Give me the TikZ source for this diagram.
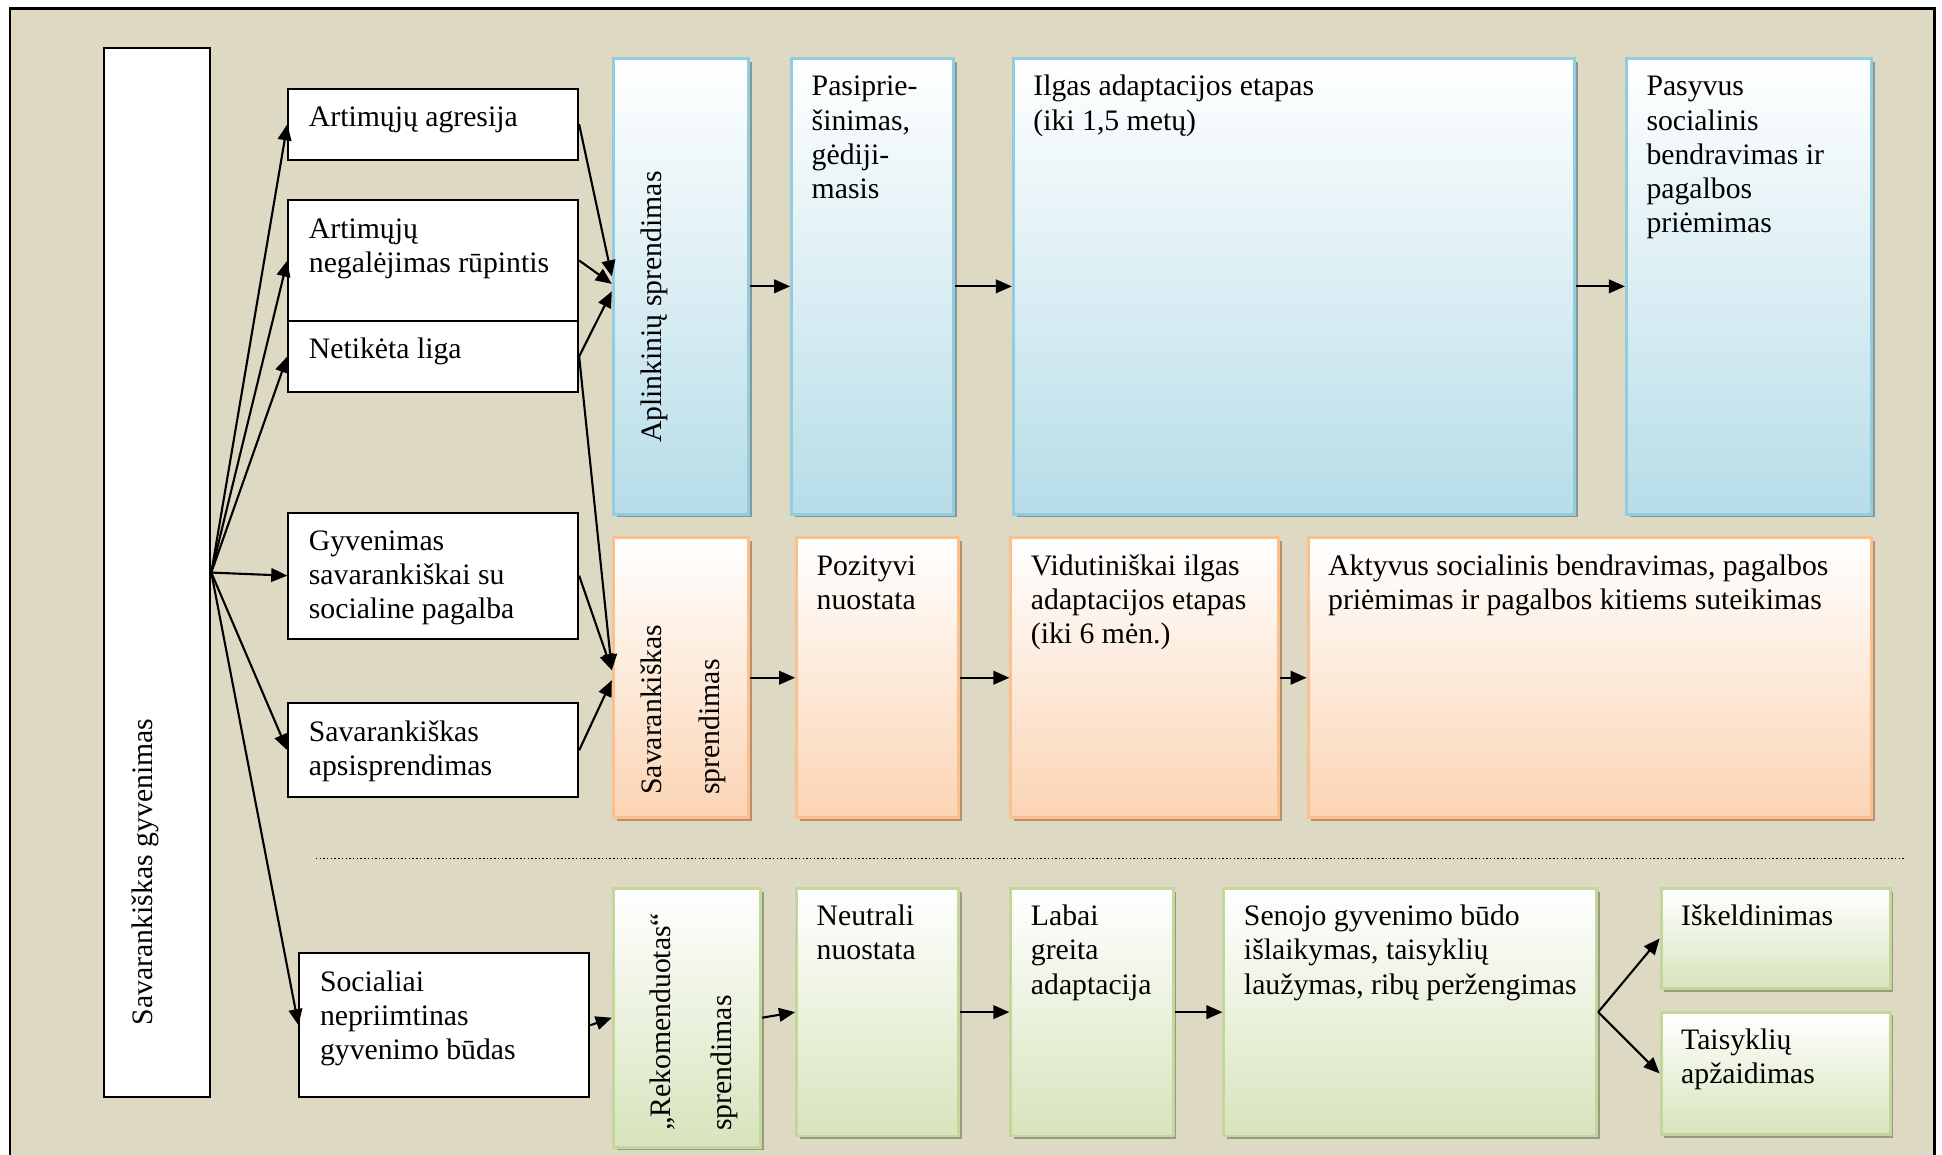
\documentclass[tikz,border=0pt]{standalone}
\usepackage{fontspec}
\setmainfont{Liberation Serif}
\usetikzlibrary{arrows.meta,shadows,calc}

\definecolor{bg}{HTML}{DDD9C3}
\definecolor{blueline}{HTML}{93CDDD}
\definecolor{bluefill}{HTML}{B6DDE8}
\definecolor{blueshadow}{HTML}{84989A}
\definecolor{orangeline}{HTML}{FAC090}
\definecolor{orangefill}{HTML}{FBD4B4}
\definecolor{orangeshadow}{HTML}{B89070}
\definecolor{greenline}{HTML}{C3D69B}
\definecolor{greenfill}{HTML}{D7E4BC}
\definecolor{greenshadow}{HTML}{979B80}

\tikzset{
  % text block placed by the baseline of its first line
  txt/.style={font=\fontsize{12}{13.8}\selectfont, inner sep=0pt, anchor=base west},
  rtxt/.style={font=\fontsize{12}{13.8}\selectfont, inner sep=0pt, align=left, rotate=90, anchor=center},
  plainbox/.style={draw=black, line width=0.8pt, fill=white},
  bluebox/.style={draw=blueline, line width=1.2pt, top color=white, bottom color=bluefill,
    drop shadow={shadow xshift=1.3pt, shadow yshift=-1.3pt, fill=blueshadow, opacity=1}},
  orangebox/.style={draw=orangeline, line width=1.2pt, top color=white, bottom color=orangefill,
    drop shadow={shadow xshift=1.3pt, shadow yshift=-1.3pt, fill=orangeshadow, opacity=1}},
  greenbox/.style={draw=greenline, line width=1.2pt, top color=white, bottom color=greenfill,
    drop shadow={shadow xshift=1.3pt, shadow yshift=-1.3pt, fill=greenshadow, opacity=1}},
  arr/.style={line width=0.85pt, -{Triangle[length=6.5pt,width=5.5pt]}},
}

% empty rectangle node spanning (x1,y1)-(x2,y2)
\newcommand\mkshape[6]{%
  \node[#2, inner sep=0pt, minimum width={(#5-#3)*0.5pt}, minimum height={(#6-#4)*0.5pt},
        anchor=north west] (#1) at (#3,#4) {};}
% rectangle with its text set from the top left corner
\newcommand\mkbox[7]{%
  \mkshape{#1}{#2}{#3}{#4}{#5}{#6}
  \node[txt] (#1-t) at ($(#1.north west)+(17,31.5)$) {\begin{tabular}[t]{@{}l@{}}#7\end{tabular}};}

\begin{document}
\begin{tikzpicture}[x=0.5pt, y=-0.5pt]
\useasboundingbox (0,0) rectangle (1568,932);
\clip (0,0) rectangle (1568,932);

% background panel
\draw[line width=1pt, fill=bg] (8,7) rectangle (1562,960);

% main vertical box
\mkshape{main}{plainbox}{83}{38}{169}{885}
\node[rtxt] (main-t) at (117,704) {Savarankiškas gyvenimas};

% causes
\mkbox{a1}{plainbox}{232}{71}{466}{128}{Artimųjų agresija}
\mkbox{a2}{plainbox}{232}{161}{466}{258}{Artimųjų\\negalėjimas rūpintis}
\mkbox{a3}{plainbox}{232}{258}{466}{316}{Netikėta liga}
\mkbox{a4}{plainbox}{232}{413}{466}{515}{Gyvenimas\\savarankiškai su\\socialine pagalba}
\mkbox{a5}{plainbox}{232}{567}{466}{643}{Savarankiškas\\apsisprendimas}
\mkbox{a6}{plainbox}{241}{769}{475}{885}{Socialiai\\nepriimtinas\\gyvenimo būdas}

% blue row
\mkshape{b1}{bluebox}{494}{46}{603}{414}
\node[rtxt] (b1-t) at (528,248) {Aplinkinių sprendimas};
\mkbox{b2}{bluebox}{638}{46}{769}{414}{Pasiprie-\\šinimas,\\gėdiji-\\masis}
\mkbox{b3}{bluebox}{817}{46}{1270}{414}{Ilgas adaptacijos etapas\\(iki 1,5 metų)}
\mkbox{b4}{bluebox}{1312}{46}{1510}{414}{Pasyvus\\socialinis\\bendravimas ir\\pagalbos\\priėmimas}

% orange row
\mkshape{c1}{orangebox}{494}{433}{603}{659}
\node[rtxt] (c1-t) at (552,573) {Savarankiškas\\[9.7pt]sprendimas};
\mkbox{c2}{orangebox}{642}{433}{773}{659}{Pozityvi\\nuostata}
\mkbox{c3}{orangebox}{815}{433}{1031}{659}{Vidutiniškai ilgas\\adaptacijos etapas\\(iki 6 mėn.)}
\mkbox{c4}{orangebox}{1055}{433}{1510}{659}{Aktyvus socialinis bendravimas, pagalbos\\priėmimas ir pagalbos kitiems suteikimas}

% separator
\coordinate (sepL) at (255,693);
\coordinate (sepR) at (1538,693);
\draw[line width=0.6pt, dash pattern=on 0.6pt off 0.9pt] (sepL) -- (sepR);

% green row
\mkshape{d1}{greenbox}{494}{716}{613}{925}
\node[rtxt] (d1-t) at (560,825) {„Rekomenduotas“\\[10.7pt]sprendimas};
\mkbox{d2}{greenbox}{642}{716}{773}{916}{Neutrali\\nuostata}
\mkbox{d3}{greenbox}{815}{716}{946}{916}{Labai\\greita\\adaptacija}
\mkbox{d4}{greenbox}{987}{716}{1288}{916}{Senojo gyvenimo būdo\\išlaikymas, taisyklių\\laužymas, ribų peržengimas}
\mkbox{d5}{greenbox}{1340}{716}{1525}{797}{Iškeldinimas}
\mkbox{d6}{greenbox}{1340}{816}{1525}{915}{Taisyklių\\apžaidimas}

% fan from the main box
\foreach \t in {a1,a2,a3,a4,a5,a6}
  \draw[arr] (main.east) -- (\t.west);

% causes to decisions
\draw[arr] (a1.east) -- ($(b1.west)+(0,-8)$);
\draw[arr] (a2.east) -- ($(b1.west)+(0,-2)$);
\draw[arr] (a3.east) -- ($(b1.west)+(0,4)$);
\draw[arr] (a3.east) -- ($(c1.west)+(0,-6)$);
\draw[arr] (a4.east) -- ($(c1.west)+(0,-6)$);
\draw[arr] (a5.east) -- ($(c1.west)+(0,2)$);
\draw[arr] (a6.east) -- (d1.west);

% row sequences
\draw[arr] (b1.east) -- (b2.west);
\draw[arr] (b2.east) -- (b3.west);
\draw[arr] (b3.east) -- (b4.west);
\draw[arr] (c1.east) -- (c2.west);
\draw[arr] (c2.east) -- (c3.west);
\draw[arr] (c3.east) -- (c4.west);
\draw[arr] (d1.east) -- (d2.west);
\draw[arr] (d2.east) -- (d3.west);
\draw[arr] (d3.east) -- (d4.west);
\draw[arr] (d4.east) -- (d5.west);
\draw[arr] (d4.east) -- (d6.west);
\end{tikzpicture}
\end{document}
